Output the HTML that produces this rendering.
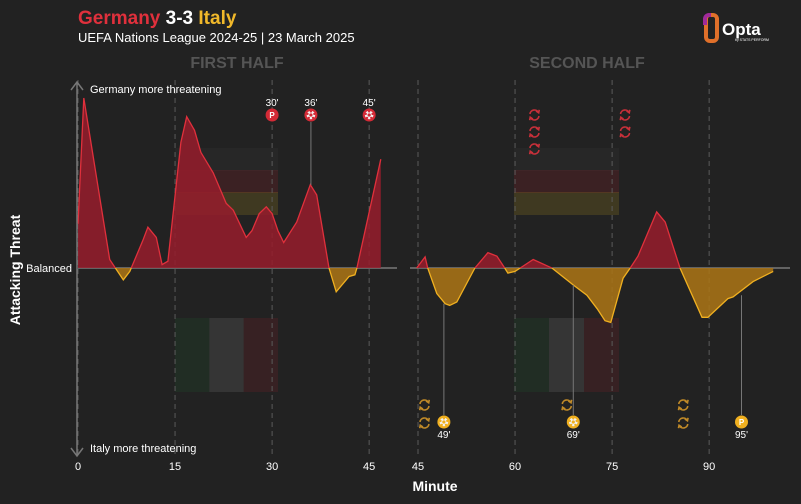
<!DOCTYPE html>
<html><head><meta charset="utf-8"><style>
html,body{margin:0;padding:0;background:#222222;}
svg{display:block;font-family:"Liberation Sans",sans-serif;}
</style></head><body>
<svg id="chart" width="801" height="504" viewBox="0 0 801 504">
<rect width="801" height="504" fill="#222222"/>
<text x="78" y="24" font-size="19" font-weight="bold"><tspan fill="#e0303c">Germany</tspan><tspan fill="#ffffff"> 3-3 </tspan><tspan fill="#f0b82a">Italy</tspan></text>
<text x="78" y="42" font-size="13" fill="#ffffff">UEFA Nations League 2024-25 | 23 March 2025</text>
<g>
<rect x="706" y="15" width="11" height="26" rx="4" fill="none" stroke="#e0702a" stroke-width="4"/>
<path d="M711 15 h-2 a4 4 0 0 0 -4 4 v6" stroke="#a02a9a" stroke-width="4" fill="none"/>
<text x="722" y="35" font-size="17" font-weight="bold" fill="#ffffff">Opta</text>
<text x="735" y="41" font-size="3.5" fill="#ffffff">by STATS PERFORM</text>
</g>
<text x="237" y="68" font-size="16" font-weight="bold" fill="#555555" text-anchor="middle">FIRST HALF</text>
<text x="587" y="68" font-size="16" font-weight="bold" fill="#555555" text-anchor="middle">SECOND HALF</text>
<g id="flags"></g>
<g id="grid"></g>
<g id="areas"></g>
<g id="events"></g>
<g>
<line x1="77" y1="82" x2="77" y2="456" stroke="#777" stroke-width="1.5"/>
<path d="M71 90 L77 82 L83 90" stroke="#777" stroke-width="1.5" fill="none"/>
<path d="M71 448 L77 456 L83 448" stroke="#777" stroke-width="1.5" fill="none"/>
</g>
<text x="90" y="93" font-size="11" fill="#ffffff">Germany more threatening</text>
<text x="90" y="452" font-size="11" fill="#ffffff">Italy more threatening</text>
<text x="72" y="272" font-size="11" fill="#ffffff" text-anchor="end">Balanced</text>
<text transform="translate(20,270) rotate(-90)" font-size="14" font-weight="bold" fill="#ffffff" text-anchor="middle">Attacking Threat</text>
<text x="435" y="491" font-size="14" font-weight="bold" fill="#ffffff" text-anchor="middle">Minute</text>
</svg>
<script>
const firstMinutes=[0,0.9,4.9,7.0,8.0,10.0,10.8,12.1,13.0,13.9,15.9,16.8,18.0,19.0,20.9,22.9,24.0,26.0,26.9,28.0,29.1,30.0,30.9,31.8,33.8,35.9,36.9,38.8,39.9,41.9,42.8,43.1,46.8];
const firstValues=[26,100,5,-7,-2,16,24,18,2,4,74,89,81,68,56,38,34,18,22,32,36,32,22,15,27,49,43,0,-14,-5,-4,0,64];
const secondMinutes=[44.8,46.1,46.5,47.9,49.2,49.9,51,53.8,55.8,57.2,58.4,58.9,60,60.8,62.8,65.7,69,71.1,72.7,73.9,74.8,76.7,77.8,79,81.9,83.2,85.5,88.9,89.8,92.9,93.7,96.8,99.9];
const secondValues=[0,6.5,0,-15,-21,-22,-20,0,9,7,0,-3,-2,0,5,0,-10,-16,-24,-31,-32,-6,0,7,33,27,0,-29,-29,-18,-17,-8,-2];
const firstTicks=[0,15,30,45];
const secondTicks=[45,60,75,90];
const germanyEvents=[{min:30,label:"30'",type:"pen"},{min:36,label:"36'",type:"goal"},{min:45,label:"45'",type:"goal"}];
const italyGoals=[{min:49,label:"49'",type:"goal",v:-21},{min:69,label:"69'",type:"goal",v:-10},{min:95,label:"95'",type:"pen",v:-16}];
const germanySubs=[63,63,63,77,77];
const italySubs=[46,46,68,86,86];

const NS="http://www.w3.org/2000/svg";
const X1=m=>78+m*6.47, X2=m=>418+(m-45)*6.47, Y=v=>268-v*1.7, Z=268;
function el(tag,attrs,parent){const e=document.createElementNS(NS,tag);for(const k in attrs)e.setAttribute(k,attrs[k]);parent.appendChild(e);return e;}
const svg=document.getElementById('chart');
const defs=el('defs',{},svg);
const cpA=el('clipPath',{id:'above'},defs);el('rect',{x:0,y:0,width:801,height:Z},cpA);
const cpB=el('clipPath',{id:'below'},defs);el('rect',{x:0,y:Z,width:801,height:504-Z},cpB);

const fg=document.getElementById('flags');
[[175,278],[514,619]].forEach(([a,b])=>{
  const w=b-a;
  [['#272727',148],['rgba(150,30,40,0.22)',170],['rgba(180,150,30,0.2)',192]].forEach(([c,y])=>{
    const r=el('rect',{x:a,y:y,width:w,height:23,fill:c},fg);
    
    
  });
  [['rgba(30,80,45,0.25)',0],['rgba(110,110,110,0.25)',1],['rgba(120,30,40,0.25)',2]].forEach(([c,k])=>{
    const r=el('rect',{x:a+k*w/3,y:318,width:w/3,height:74,fill:c},fg);
    
    
  });
});

const gg=document.getElementById('grid');
function ticks(arr,X){arr.forEach(t=>{
  const l=el('line',{x1:X(t),x2:X(t),y1:80,y2:456,stroke:'#5a5a5a','stroke-dasharray':'5,4','stroke-width':1},gg);
  
  
  const tx=el('text',{x:X(t),y:470,'font-size':11,fill:'#ffffff','text-anchor':'middle'},gg);tx.textContent=t;
  
  
});}
ticks(firstTicks,X1);ticks(secondTicks,X2);
const b1=el('line',{x1:78,x2:397,y1:Z,y2:Z,stroke:'#8a8a8a','stroke-width':1.2},gg);


const b2=el('line',{x1:410,x2:790,y1:Z,y2:Z,stroke:'#8a8a8a','stroke-width':1.2},gg);



const ag=document.getElementById('areas');
function area(ms,vs,X,name){
  const pts=ms.map((m,i)=>X(m).toFixed(1)+','+Y(vs[i]).toFixed(1));
  const line='M'+pts.join(' L');
  const poly=line+' L'+X(ms[ms.length-1]).toFixed(1)+','+Z+' L'+X(ms[0]).toFixed(1)+','+Z+' Z';
  const a=el('path',{d:poly,fill:'#961c2b','fill-opacity':0.85,'clip-path':'url(#above)'},ag);
  
  
  const b=el('path',{d:poly,fill:'#a87316','fill-opacity':0.88,'clip-path':'url(#below)'},ag);
  
  
  const la=el('path',{d:line,fill:'none',stroke:'#e0303c','stroke-width':1.3,'clip-path':'url(#above)'},ag);
  
  
  const lb=el('path',{d:line,fill:'none',stroke:'#f0b020','stroke-width':1.3,'clip-path':'url(#below)'},ag);
  
  
}
area(firstMinutes,firstValues,X1,'first-half');
area(secondMinutes,secondValues,X2,'second-half');

const eg=document.getElementById('events');
const Xany=m=>m<=45?X1(m):X2(m);
function icon(x,y,color,type,parent){
  const g=el('g',{},parent);
  el('circle',{cx:x,cy:y,r:6.5,fill:color},g);
  if(type==='pen'){const t=el('text',{x:x,y:y+3,'font-size':8,'font-weight':'bold',fill:'#fff','text-anchor':'middle'},g);t.textContent='P';}
  else{
    el('circle',{cx:x,cy:y,r:4.3,fill:'#f2f2f2'},g);
    el('circle',{cx:x,cy:y,r:1.6,fill:color},g);
    [0,72,144,216,288].forEach(a=>{const r=a*Math.PI/180;el('circle',{cx:x+3.6*Math.sin(r),cy:y-3.6*Math.cos(r),r:1.2,fill:color},g);});
  }
  return g;
}
germanyEvents.forEach(e=>{
  const x=Xany(e.min);
  const ln=el('line',{x1:x,x2:x,y1:122,y2:e.min===36?185:122,stroke:'#777'},eg);
  
  
  const g=icon(x,115,'#d42a36',e.type,eg);
  
  
  const t=el('text',{x:x,y:106,'font-size':10,fill:'#fff','text-anchor':'middle'},eg);t.textContent=e.label;
  
  
});
italyGoals.forEach(e=>{
  const x=Xany(e.min);
  const ln=el('line',{x1:x,x2:x,y1:Y(e.v),y2:415,stroke:'#777'},eg);
  
  
  const g=icon(x,422,'#f0b020',e.type,eg);
  
  
  const t=el('text',{x:x,y:438,'font-size':10,fill:'#fff','text-anchor':'middle'},eg);t.textContent=e.label;
  
  
});
function sub(x,y,color){
  const g=el('g',{fill:'none',stroke:color,'stroke-width':1.6},eg);
  el('path',{d:`M${x-4.5} ${y-1} A4.5 4.5 0 0 1 ${x+4} ${y-2.5}`},g);
  el('path',{d:`M${x+4.5} ${y+1} A4.5 4.5 0 0 1 ${x-4} ${y+2.5}`},g);
  el('path',{d:`M${x+1.5} ${y-4} L${x+4.2} ${y-2.2} L${x+4.8} ${y-5.2}`},g);
  el('path',{d:`M${x-1.5} ${y+4} L${x-4.2} ${y+2.2} L${x-4.8} ${y+5.2}`},g);
  return g;
}
function subs(arr,yStart,step,color,name){
  const count={};
  arr.forEach(m=>{count[m]=(count[m]||0);const y=yStart+step*count[m];count[m]++;
    const g=sub(Xany(m),y,color);
    
    
  });
}
subs(germanySubs,115,17,'#c8303a','germany-substitution');
subs(italySubs,405,18,'#c08a28','italy-substitution');
</script>
</body></html>
